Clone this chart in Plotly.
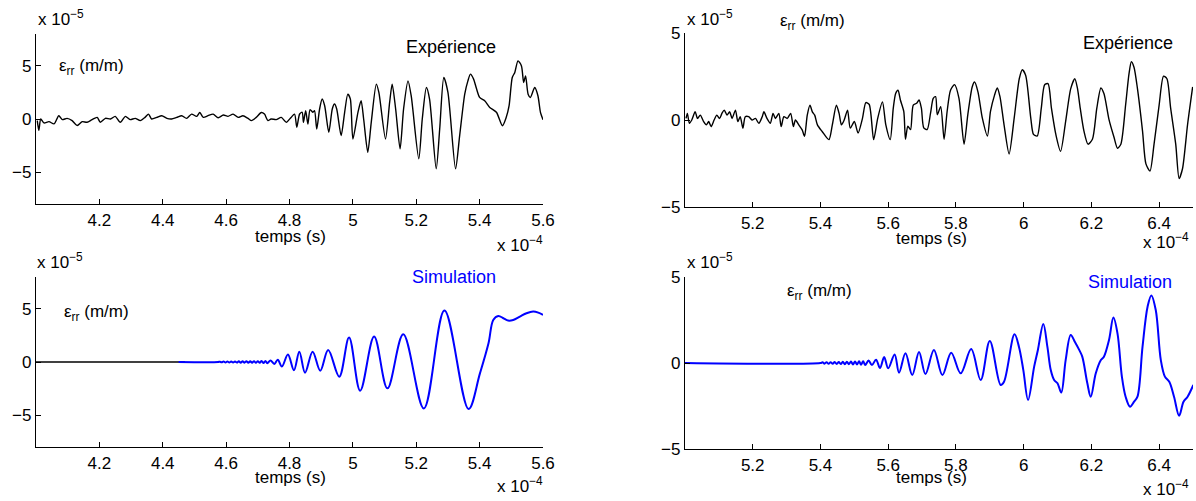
import plotly.graph_objects as go

W, H = 1196, 501
FONT = "Liberation Sans, Arial, Helvetica, sans-serif"
FS = 17
FA = 18

# ---------------- data (x in 1e-4 s, y in 1e-5 m/m) ----------------
# Top-left : experiment
exp_L_t = [4.004, 4.009, 4.015, 4.025, 4.041, 4.057, 4.072, 4.083, 4.098, 4.114, 4.130, 4.146, 4.161,
           4.177, 4.193, 4.203, 4.219, 4.235, 4.250, 4.266, 4.282, 4.297, 4.313, 4.329, 4.344, 4.355,
           4.365, 4.381, 4.397, 4.413, 4.428, 4.444, 4.460, 4.475, 4.491, 4.507, 4.517, 4.528, 4.543,
           4.559, 4.575, 4.591, 4.606, 4.622, 4.638, 4.653, 4.669, 4.680, 4.695, 4.711, 4.721, 4.732,
           4.742, 4.758, 4.774, 4.790, 4.805, 4.816, 4.823,
           4.832, 4.840, 4.844, 4.851, 4.858, 4.865, 4.874, 4.879, 4.886, 4.895, 4.903, 4.911, 4.924,
           4.935, 4.942, 4.949, 4.963, 4.974, 4.984, 4.992, 5.000, 5.016, 5.026, 5.034, 5.047, 5.058,
           5.074, 5.082, 5.103, 5.116, 5.124, 5.135, 5.149, 5.160, 5.174, 5.184, 5.208, 5.219, 5.232,
           5.242, 5.263, 5.274, 5.287, 5.300, 5.324, 5.337, 5.353, 5.363, 5.371, 5.381, 5.389, 5.400,
           5.416, 5.432, 5.453, 5.472, 5.484, 5.493, 5.503, 5.511, 5.521, 5.532, 5.539, 5.545, 5.553,
           5.560, 5.574, 5.584, 5.592, 5.600]
exp_L_v = [-0.15, -1.07, 0.0, -0.37, -0.25, -0.46, 0.31, -0.06, 0.06, -0.15, -0.61, -0.25, -0.31,
           -0.06, 0.15, -0.31, 0.06, 0.0, 0.25, -0.31, 0.25, -0.06, 0.06, -0.15, 0.15, 0.46,
           0.0, 0.15, 0.31, 0.06, 0.0, 0.15, 0.31, 0.06, 0.46, 0.25, 0.61, 0.15, 0.31,
           0.46, 0.12, 0.37, 0.25, 0.46, 0.15, 0.31, 0.06, -0.15, 0.15, 0.61, 0.46, -0.15,
           0.0, -0.06, 0.15, -0.31, 0.15, 0.46, -0.77,
           0.47, 0.63, -0.31, 0.78, -0.47, 0.88, 0.63, 0.78, -0.94, 0.94, 1.88, 1.25, -1.25,
           0.94, 1.41, 0.94, -1.56, 0.63, 2.34, 1.88, -1.88, 0.63, 1.72, 0.0, -3.13, -0.31,
           3.28, 2.50, -1.88, 1.56, 3.28, 0.94, -2.81, 0.94, 3.59, 2.19, -3.75, 0.0, 2.97,
           1.88, -4.69, -0.94, 3.91, 2.50, -4.69, -1.56, 2.34, 3.59, 4.22, 3.75, 2.97, 2.03,
           1.72, 1.09, 0.63, -0.63, 0.16, 1.25, 3.91, 4.38, 5.47, 5.00, 3.44, 4.06, 2.34,
           2.03, 2.97, 2.19, 0.63, -0.06]

# Bottom-left : simulation
simL_black_t = [4.000, 4.470]
simL_black_v = [0.0, 0.0]
sim_L_t = [4.450, 4.575, 4.580, 4.586, 4.592, 4.598, 4.604, 4.610, 4.616, 4.622, 4.628, 4.634, 4.640,
           4.646, 4.652, 4.658, 4.664, 4.670, 4.676, 4.682, 4.688, 4.694, 4.700, 4.706, 4.712, 4.718,
           4.724, 4.730, 4.740, 4.752, 4.763, 4.776, 4.795, 4.814, 4.831, 4.849, 4.873, 4.897, 4.922,
           4.957, 4.988, 5.023, 5.067, 5.109, 5.159, 5.224, 5.289, 5.365, 5.401, 5.428, 5.443, 5.459,
           5.475, 5.490, 5.506, 5.527, 5.548, 5.569, 5.585, 5.600]
sim_L_v = [0.0, 0.0, 0.03, -0.03, 0.04, -0.04, 0.04, -0.04, 0.05, -0.05, 0.05, -0.05, 0.06,
           -0.06, 0.06, -0.06, 0.07, -0.07, 0.07, -0.07, 0.08, -0.08, 0.08, -0.08, 0.10, -0.10,
           0.10, -0.12, 0.15, -0.18, 0.22, -0.42, 0.70, -0.78, 0.97, -1.00, 0.97, -0.82, 1.13,
           -1.38, 2.30, -2.70, 2.39, -2.48, 2.61, -4.37, 4.84, -4.43, -1.07, 1.76, 3.96, 4.34,
           4.12, 3.90, 3.96, 4.28, 4.59, 4.75, 4.65, 4.43]

# Top-right : experiment
exp_R_t = [5.003, 5.007, 5.013, 5.020, 5.030, 5.037, 5.045, 5.055, 5.063, 5.070, 5.077, 5.086, 5.094,
           5.102, 5.109, 5.116, 5.124, 5.132, 5.139, 5.149, 5.156, 5.163, 5.171, 5.178, 5.188, 5.198,
           5.208, 5.218, 5.228, 5.233, 5.242, 5.252, 5.260, 5.267, 5.277, 5.284, 5.292, 5.302, 5.312,
           5.320, 5.326, 5.336, 5.346, 5.353, 5.361, 5.369, 5.376, 5.383, 5.391, 5.405, 5.425, 5.435,
           5.447, 5.455, 5.462, 5.470, 5.480, 5.488, 5.500, 5.511, 5.524, 5.534, 5.544, 5.557, 5.569,
           5.583, 5.593, 5.606,
           5.615, 5.622, 5.629, 5.636, 5.646, 5.651, 5.658, 5.666, 5.674, 5.684, 5.691, 5.698, 5.705,
           5.715, 5.725, 5.733, 5.740, 5.745, 5.755, 5.765, 5.774, 5.784, 5.796, 5.809, 5.824, 5.835,
           5.848, 5.855, 5.865, 5.878, 5.893, 5.902, 5.914, 5.922, 5.930, 5.942, 5.957, 5.972, 5.987,
           5.996, 6.006, 6.021, 6.029, 6.040, 6.052, 6.062, 6.072, 6.082, 6.095, 6.109, 6.124, 6.139,
           6.151, 6.159, 6.167, 6.178, 6.190, 6.203, 6.216, 6.228, 6.237, 6.252, 6.267, 6.277, 6.287,
           6.301, 6.311, 6.318, 6.326, 6.336, 6.351, 6.361, 6.373, 6.385, 6.400, 6.413, 6.423, 6.434,
           6.449, 6.459, 6.469, 6.484, 6.499]
exp_R_v = [0.09, 0.38, -0.19, 0.0, 0.47, 0.09, 0.28, -0.09, -0.28, -0.09, -0.38, 0.0, 0.28,
           0.09, 0.38, 0.57, 0.28, 0.47, 0.09, 0.57, -0.09, 0.19, -0.47, 0.19, 0.19, 0.0,
           0.09, -0.19, 0.19, 0.47, 0.09, -0.19, 0.38, 0.09, 0.38, -0.38, 0.19, 0.09, 0.38,
           -0.38, 0.0, -0.28, -0.57, -0.94, 0.28, 0.85, 0.47, 0.28, -0.28, -0.66, -1.13, -0.28,
           0.85, 0.38, -0.28, 0.0, 0.57, -0.47, -0.09, -0.75, 0.09, 1.00, 0.89, -1.13, 0.09,
           1.04, -0.28, -1.13,
           0.68, 1.52, 1.71, 1.15, 0.49, -1.11, -0.36, -0.55, 0.86, 0.96, 1.15, 0.68, -0.45,
           -0.55, 0.39, 1.24, 1.34, 0.30, 0.77, -1.11, 0.49, 1.71, 2.03, 1.24, -1.39, 0.30,
           1.90, 2.18, 1.62, 0.11, -0.92, 0.49, 1.43, 1.84, 1.34, -0.26, -1.95, 0.11, 2.37,
           2.89, 2.56, 0.11, -0.83, -0.92, 0.68, 2.03, 2.09, 0.68, -0.83, -1.80, -0.08, 1.80,
           2.37, 1.80, 0.68, -0.64, -1.39, -1.11, 0.68, 1.84, 1.52, 0.02, -1.01, -1.62, -1.39,
           0.86, 2.65, 3.35, 3.02, 1.80, -0.64, -2.52, -2.93, -1.39, 0.86, 2.52, 2.37, 0.68,
           -1.39, -3.36, -2.80, -0.26, 1.90]

# Bottom-right : simulation
sim_R_t = [5.000, 5.400, 5.406, 5.412, 5.418, 5.424, 5.430, 5.436, 5.442, 5.448, 5.454, 5.460, 5.466,
           5.472, 5.478, 5.484, 5.490, 5.496, 5.502, 5.508, 5.514, 5.520, 5.526, 5.532, 5.542, 5.552,
           5.564, 5.576, 5.588, 5.600, 5.619, 5.632, 5.651, 5.671, 5.691, 5.710, 5.735, 5.760, 5.786,
           5.814, 5.845, 5.873, 5.900, 5.932, 5.942, 5.973, 5.986, 5.999, 6.013, 6.031, 6.042, 6.058,
           6.070, 6.080, 6.090, 6.100, 6.111, 6.124, 6.139, 6.151, 6.164, 6.173, 6.188, 6.198, 6.213,
           6.228, 6.237, 6.252, 6.265, 6.277, 6.290, 6.301, 6.314, 6.326, 6.336, 6.351, 6.366, 6.377,
           6.390, 6.405, 6.417, 6.430, 6.444, 6.459, 6.472, 6.484, 6.501]
sim_R_v = [0.0, 0.0, 0.04, -0.04, 0.05, -0.05, 0.05, -0.05, 0.06, -0.06, 0.06, -0.06, 0.07,
           -0.07, 0.07, -0.07, 0.08, -0.08, 0.08, -0.08, 0.10, -0.10, 0.10, -0.12, 0.14, -0.12,
           0.19, -0.29, 0.35, -0.31, 0.50, -0.56, 0.56, -0.70, 0.64, -0.64, 0.76, -0.70, 0.60,
           -0.60, 0.81, -0.99, 1.28, -1.28, -1.09, 1.67, 0.95, -0.41, -2.15, -0.21, 0.76, 2.27,
           0.95, -0.41, -0.99, -1.18, -1.72, 0.17, 1.63, 1.24, 0.76, 0.37, -1.18, -1.96, -0.60,
           0.17, 0.37, 1.34, 2.64, 1.72, -0.79, -1.96, -2.54, -2.25, -1.96, 0.95, 3.28, 3.93,
           3.08, 0.17, -0.79, -1.09, -1.96, -3.06, -2.25, -1.96, -1.28]

x_ticks_L = [4.2, 4.4, 4.6, 4.8, 5.0, 5.2, 5.4, 5.6]
x_ticks_R = [5.2, 5.4, 5.6, 5.8, 6.0, 6.2, 6.4]
y_ticks = [-5, 0, 5]
x_tick_labels_L = ["4.2", "4.4", "4.6", "4.8", "5", "5.2", "5.4", "5.6"]
x_tick_labels_R = ["5.2", "5.4", "5.6", "5.8", "6", "6.2", "6.4"]
y_tick_labels = ["\u22125", "0", "5"]

BLUE = "#0000FF"

# ---------------- figure ----------------
fig = go.Figure()
fig.add_trace(go.Scatter(x=exp_L_t, y=exp_L_v, mode="lines", xaxis="x", yaxis="y",
                         line=dict(color="black", width=1.4, shape="spline", smoothing=0.7)))
fig.add_trace(go.Scatter(x=simL_black_t, y=simL_black_v, mode="lines", xaxis="x2", yaxis="y2",
                         line=dict(color="black", width=1.6)))
fig.add_trace(go.Scatter(x=sim_L_t, y=sim_L_v, mode="lines", xaxis="x2", yaxis="y2",
                         line=dict(color=BLUE, width=2, shape="spline", smoothing=1.0)))
fig.add_trace(go.Scatter(x=exp_R_t, y=exp_R_v, mode="lines", xaxis="x3", yaxis="y3",
                         line=dict(color="black", width=1.4, shape="spline", smoothing=0.7)))
fig.add_trace(go.Scatter(x=sim_R_t, y=sim_R_v, mode="lines", xaxis="x4", yaxis="y4",
                         line=dict(color=BLUE, width=2, shape="spline", smoothing=1.0)))


def px2x(px):
    return px / W


def py2y(py):
    return 1 - py / H


def xax(dom, rng, tv, tt, anchor):
    return dict(domain=[px2x(dom[0]), px2x(dom[1])], range=rng, anchor=anchor, automargin=False,
                tickvals=tv, ticktext=tt, ticks="inside", ticklen=5, tickwidth=1,
                tickcolor="black", showline=True, linecolor="black", linewidth=1.2,
                showgrid=False, zeroline=False, mirror=False,
                tickfont=dict(family=FONT, size=FS, color="black"))


def yax(dom, rng, anchor):
    return dict(domain=[py2y(dom[1]), py2y(dom[0])], range=rng, anchor=anchor, automargin=False,
                tickvals=y_ticks, ticktext=y_tick_labels, ticks="inside", ticklen=5, tickwidth=1,
                tickcolor="black", showline=True, linecolor="black", linewidth=1.2,
                showgrid=False, zeroline=False, mirror=False,
                tickfont=dict(family=FONT, size=FS, color="black"))


fig.update_layout(
    width=W, height=H, margin=dict(l=0, r=0, t=0, b=0, autoexpand=False),
    paper_bgcolor="white", plot_bgcolor="white", showlegend=False,
    xaxis=xax((36, 543), [4.0, 5.6], x_ticks_L, x_tick_labels_L, "y"),
    yaxis=yax((34, 204), [-8, 8], "x"),
    xaxis2=xax((36, 543), [4.0, 5.6], x_ticks_L, x_tick_labels_L, "y2"),
    yaxis2=yax((277, 447), [-8, 8], "x2"),
    xaxis3=xax((685, 1193), [5.0, 6.5], x_ticks_R, x_tick_labels_R, "y3"),
    yaxis3=yax((33, 207), [-5, 5], "x3"),
    xaxis4=xax((685, 1193), [5.0, 6.5], x_ticks_R, x_tick_labels_R, "y4"),
    yaxis4=yax((277, 449), [-5, 5], "x4"),
)


def ann(text, px, py, xanchor="center", color="black", size=FA):
    fig.add_annotation(text=text, x=px2x(px), y=py2y(py), xref="paper", yref="paper",
                       xanchor=xanchor, yanchor="middle", showarrow=False,
                       font=dict(family=FONT, size=size, color=color))


EXP5 = "x 10<sup>\u22125</sup>"
EXP4 = "x 10<sup>\u22124</sup>"
EPS = "\u03b5<sub>rr</sub> (m/m)"

# scale factors
ann(EXP5, 36, 18, "left", size=FS)
ann(EXP5, 35, 261, "left", size=FS)
ann(EXP5, 685, 18, "left", size=FS)
ann(EXP5, 685, 261, "left", size=FS)
ann(EXP4, 545, 244, "right", size=FS)
ann(EXP4, 1191, 241, "right", size=FS)
ann(EXP4, 545, 485, "right", size=FS)
ann(EXP4, 1191, 488, "right", size=FS)
# x labels
ann("temps (s)", 290, 236, size=FS)
ann("temps (s)", 290, 477, size=FS)
ann("temps (s)", 931, 239, size=FS)
ann("temps (s)", 931, 477, size=FS)
# y labels
ann(EPS, 57, 67, "left", size=FS)
ann(EPS, 62, 313, "left", size=FS)
ann(EPS, 778, 22, "left", size=FS)
ann(EPS, 785, 292, "left", size=FS)
# titles
ann("Expérience", 451, 47)
ann("Expérience", 1128, 43)
ann("Simulation", 454, 277, color=BLUE)
ann("Simulation", 1130, 282, color=BLUE)

fig.write_html("out.html", config={"displayModeBar": False},
               post_script="document.body.style.margin='0px';document.body.style.overflow='hidden';")
